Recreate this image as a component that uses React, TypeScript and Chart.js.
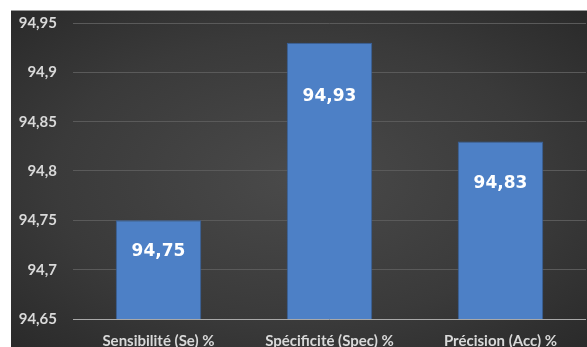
import React, { useEffect, useRef } from "react";
import { Chart, registerables } from "chart.js";

Chart.register(...registerables);

const categories = ["Sensibilité (Se) %", "Spécificité (Spec) %", "Précision (Acc) %"];
const values = [94.75, 94.93, 94.83];
const valueLabels = ["94,75", "94,93", "94,83"];
const labelOffsets = [31, 54, 42];
const yMin = 94.65;
const yMax = 94.95;
const yStep = 0.05;

function fmt(v: number): string {
  const s = (Math.round(v * 100) / 100).toFixed(2).replace(/0+$/, "").replace(/\.$/, "");
  return s.replace(".", ",");
}

const valueLabelPlugin = {
  id: "valueLabels",
  afterDatasetsDraw(chart: any) {
    const ctx = chart.ctx;
    const meta = chart.getDatasetMeta(0);
    ctx.save();
    ctx.fillStyle = "#ffffff";
    ctx.font = "bold 17px 'DejaVu Sans'";
    ctx.textAlign = "center";
    ctx.textBaseline = "middle";
    meta.data.forEach((bar: any, i: number) => {
      ctx.fillText(valueLabels[i], bar.x, bar.y + labelOffsets[i]);
    });
    ctx.restore();
  },
};

export default function App() {
  const ref = useRef<HTMLCanvasElement | null>(null);
  useEffect(() => {
    document.body.style.margin = "0";
    const canvas = ref.current!;
    const chart = new Chart(canvas, {
      type: "bar",
      data: {
        labels: categories,
        datasets: [
          {
            data: values,
            backgroundColor: "#4d80c6",
            borderColor: "#365f99",
            borderWidth: 1,
            categoryPercentage: 1,
            barPercentage: 0.5,
          },
        ],
      },
      options: {
        animation: false,
        responsive: false,
        maintainAspectRatio: false,
        layout: { autoPadding: false, padding: { top: 12, right: 1, left: 0, bottom: 0 } },
        plugins: { legend: { display: false }, tooltip: { enabled: false } },
        scales: {
          x: {
            grid: { display: false },
            border: { display: false },
            ticks: {
              color: "#d9d9d9",
              font: { family: "Lato", weight: "bold", size: 15 },
              padding: 5,
              maxRotation: 0,
            },
            afterFit(scale: any) {
              scale.height = 28;
              scale.paddingLeft = 0;
              scale.paddingRight = 0;
            },
          },
          y: {
            min: yMin,
            max: yMax,
            border: { display: false },
            grid: {
              drawTicks: false,
              color: (c: any) => (c.index === 0 ? "#a8a8a8" : "#5a5a5a"),
              lineWidth: 1,
            },
            ticks: {
              stepSize: yStep,
              color: "#d9d9d9",
              font: { family: "Lato", weight: "bold", size: 15 },
              padding: 16,
              callback: (v: any) => fmt(Number(v)),
            },
            afterFit(scale: any) {
              scale.width = 62;
              scale.paddingTop = 0;
              scale.paddingBottom = 0;
            },
          },
        },
      },
      plugins: [valueLabelPlugin],
    });
    return () => chart.destroy();
  }, []);
  return (
    <div
      style={{
        position: "absolute",
        left: 11,
        top: 10,
        width: 576,
        height: 337,
        background: "radial-gradient(ellipse at center, #4a4a4a 0%, #3a3a3a 60%, #2a2a2a 100%)",
        borderTop: "1px solid #9a9a9a",
        boxSizing: "border-box",
      }}
    >
      <canvas ref={ref} width={576} height={336} style={{ display: "block" }} />
    </div>
  );
}
